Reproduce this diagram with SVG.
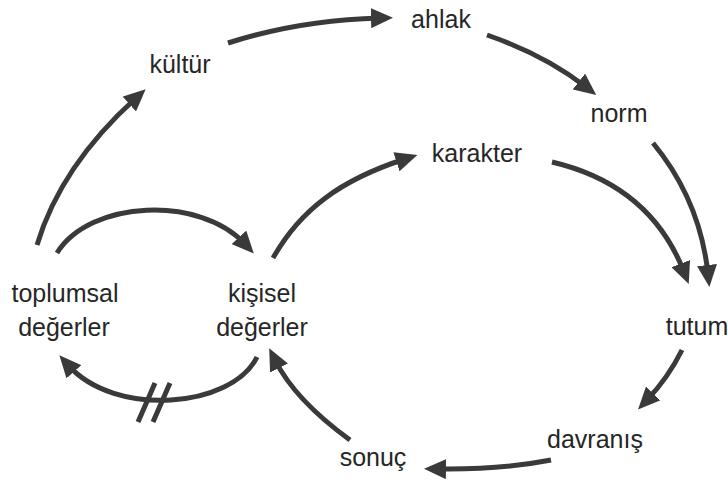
<svg xmlns="http://www.w3.org/2000/svg" width="728" height="486" viewBox="0 0 728 486">
<style>
text{font-family:"Liberation Sans",Arial,sans-serif;font-size:25px;fill:#262626;text-anchor:middle}
.c{fill:none;stroke:#3a3a3a;stroke-width:5;marker-end:url(#ah)}
.s{fill:none;stroke:#3a3a3a;stroke-width:5}
</style>
<defs>
<marker id="ah" markerUnits="userSpaceOnUse" viewBox="0 0 22 20" markerWidth="22" markerHeight="20" refX="9" refY="10" orient="auto">
<path d="M0,0 L22,10 L0,20 z" fill="#3a3a3a"/>
</marker>
</defs>
<rect width="728" height="486" fill="#fff"/>
<g id="connectors">
<path class="c" d="M37,245 C55,185 95,135 136,98"/>
<path class="c" d="M228,43 Q300,20 380,18"/>
<path class="c" d="M487,35 Q545,55 586,87"/>
<path class="c" d="M653,143 Q700,200 708,274"/>
<path class="c" d="M552,162 Q650,185 684,272"/>
<path class="c" d="M273,258 C300,210 340,180 405,159"/>
<path class="c" d="M57,253 C90,200 200,195 245,244"/>
<path class="c" d="M257,357 C232,408 115,418 68,365"/>
<path class="s" d="M138,422 L155,383 M153,422 L170,383"/>
<path class="c" d="M682,350 Q668,378 647,400"/>
<path class="c" d="M551,460 Q500,470 437,469"/>
<path class="c" d="M350,440 Q295,400 275,360"/>
</g>
<g id="kultur"><text x="180" y="73">kültür</text></g>
<g id="ahlak"><text x="441" y="28">ahlak</text></g>
<g id="norm"><text x="619" y="122">norm</text></g>
<g id="karakter"><text x="477" y="162">karakter</text></g>
<g id="toplumsal"><text x="65" y="302">toplumsal</text><text x="64" y="336">değerler</text></g>
<g id="kisisel"><text x="262" y="302">kişisel</text><text x="262" y="336">değerler</text></g>
<g id="tutum"><text x="697" y="335">tutum</text></g>
<g id="davranis"><text x="595" y="448">davranış</text></g>
<g id="sonuc"><text x="373" y="466">sonuç</text></g>
</svg>
